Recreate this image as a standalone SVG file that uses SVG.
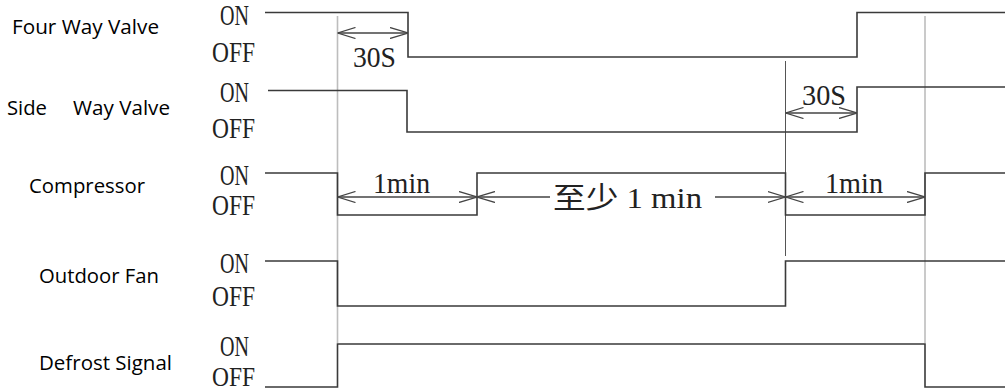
<svg xmlns="http://www.w3.org/2000/svg" width="1005" height="392" viewBox="0 0 1005 392">
<style>
.lbl{font-family:"Open Sans","Liberation Sans",sans-serif;font-size:20px;fill:#000}
.st{font-family:"Liberation Serif",serif;font-size:30px;fill:#222}
.dim{font-family:"Liberation Serif","Noto Sans CJK SC",serif;font-size:29px;fill:#222}
.sig{fill:none;stroke:#3a3a3a;stroke-width:1.6}
.guide{fill:none;stroke:#bdbdbd;stroke-width:1.6}
.guide2{fill:none;stroke:#555;stroke-width:1}
.arr{fill:none;stroke:#444;stroke-width:1.3;marker-start:url(#ah);marker-end:url(#ah)}
.arr1{fill:none;stroke:#444;stroke-width:1.3}
</style>
<defs>
<marker id="ah" viewBox="0 -6 18 12" refX="18" refY="0" markerWidth="18" markerHeight="12" markerUnits="userSpaceOnUse" orient="auto-start-reverse">
<path d="M0,-5.5 L18,0 L0,5.5" fill="none" stroke="#444" stroke-width="1.3"/>
</marker>
</defs>
<g id="guides">
<line class="guide" x1="337.5" y1="16" x2="337.5" y2="343"/>
<line class="guide" x1="925" y1="16" x2="925" y2="343"/>
<line class="guide2" x1="785.5" y1="61" x2="785.5" y2="256"/>
</g>
<g id="four-way-valve">
<text class="lbl" x="12" y="34" textLength="147" lengthAdjust="spacingAndGlyphs">Four Way Valve</text>
<text class="st" x="220" y="25" textLength="29" lengthAdjust="spacingAndGlyphs">ON</text>
<text class="st" x="212" y="62" textLength="43" lengthAdjust="spacingAndGlyphs">OFF</text>
<path class="sig" d="M265,12.5 H408 V57 H857 V12.5 H1005"/>
</g>
<g id="side-way-valve">
<text class="lbl" y="115"><tspan x="7" textLength="40" lengthAdjust="spacingAndGlyphs">Side</tspan><tspan x="73" textLength="97" lengthAdjust="spacingAndGlyphs">Way Valve</tspan></text>
<text class="st" x="220" y="102" textLength="29" lengthAdjust="spacingAndGlyphs">ON</text>
<text class="st" x="212" y="138" textLength="43" lengthAdjust="spacingAndGlyphs">OFF</text>
<path class="sig" d="M268,90.5 H407 V132 H857 V87 H1005"/>
</g>
<g id="compressor">
<text class="lbl" x="29" y="193" textLength="116" lengthAdjust="spacingAndGlyphs">Compressor</text>
<text class="st" x="220" y="185" textLength="29" lengthAdjust="spacingAndGlyphs">ON</text>
<text class="st" x="212" y="215" textLength="43" lengthAdjust="spacingAndGlyphs">OFF</text>
<path class="sig" d="M265,173 H337.5 V215 H477 V173 H785.5 V215 H925 V173 H1005"/>
</g>
<g id="outdoor-fan">
<text class="lbl" x="39" y="283" textLength="120" lengthAdjust="spacingAndGlyphs">Outdoor Fan</text>
<text class="st" x="220" y="273" textLength="29" lengthAdjust="spacingAndGlyphs">ON</text>
<text class="st" x="212" y="306" textLength="43" lengthAdjust="spacingAndGlyphs">OFF</text>
<path class="sig" d="M265,261 H337.5 V306 H785.5 V261 H1005"/>
</g>
<g id="defrost-signal">
<text class="lbl" x="39" y="370" textLength="133" lengthAdjust="spacingAndGlyphs">Defrost Signal</text>
<text class="st" x="220" y="356" textLength="29" lengthAdjust="spacingAndGlyphs">ON</text>
<text class="st" x="212" y="386" textLength="43" lengthAdjust="spacingAndGlyphs" style="font-size:28px">OFF</text>
<path class="sig" d="M265,387 H337.5 V344 H925 V387 H1005"/>
</g>
<g id="connectors">
<line class="arr" x1="337.5" y1="33" x2="408" y2="33"/>
<text class="dim" x="353" y="67" textLength="43" lengthAdjust="spacingAndGlyphs">30S</text>
<line class="arr" x1="785.5" y1="113" x2="857" y2="113"/>
<text class="dim" x="802" y="105" textLength="44" lengthAdjust="spacingAndGlyphs">30S</text>
<line class="arr" x1="337.5" y1="197" x2="477" y2="197"/>
<text class="dim" x="373" y="193" textLength="57" lengthAdjust="spacingAndGlyphs">1min</text>
<path class="arr1" d="M477,197 H550 M715,197 H785.5"/>
<line x1="550" y1="197" x2="477" y2="197" stroke="none" marker-end="url(#ah)"/>
<line x1="715" y1="197" x2="785.5" y2="197" stroke="none" marker-end="url(#ah)"/>
<text class="dim" x="553" y="208" textLength="149" lengthAdjust="spacingAndGlyphs" style="font-size:30px">至少 1 min</text>
<line class="arr" x1="785.5" y1="197" x2="925" y2="197"/>
<text class="dim" x="825" y="193" textLength="58" lengthAdjust="spacingAndGlyphs">1min</text>
</g>
</svg>
